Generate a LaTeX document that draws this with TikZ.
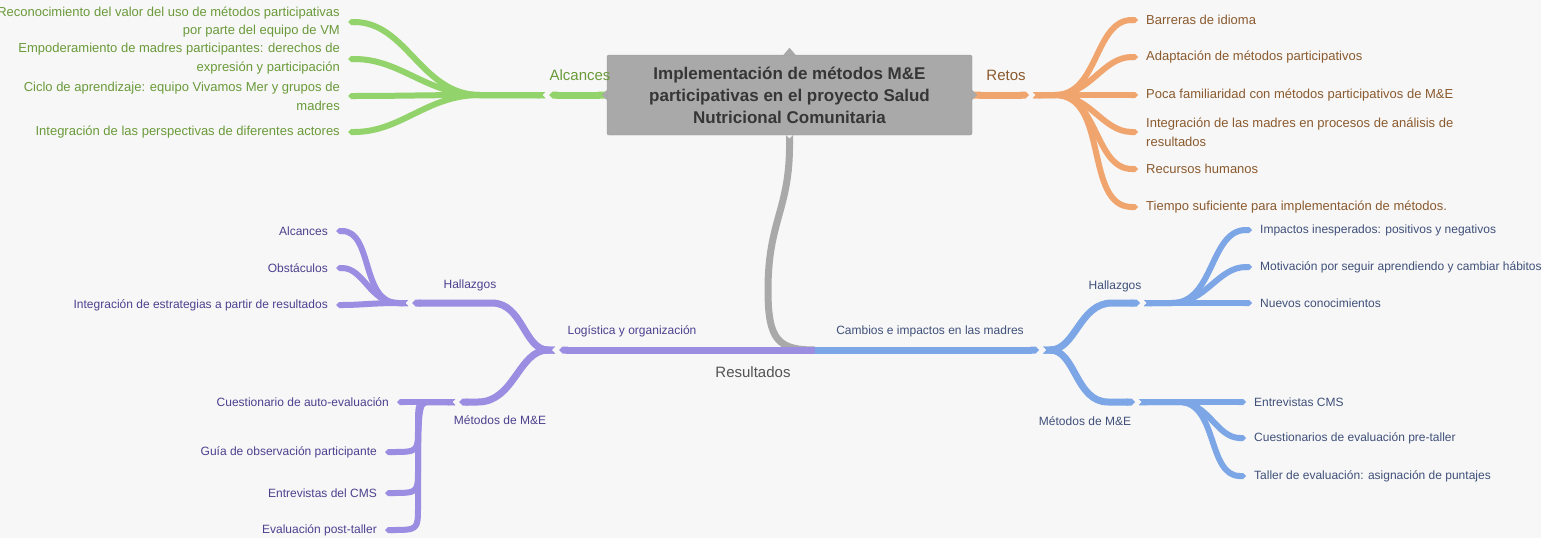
\documentclass[tikz,border=0pt]{standalone}
\usepackage{fontspec}
\setmainfont{Liberation Sans}
\usetikzlibrary{arrows.meta,positioning}
\definecolor{fondo}{HTML}{F7F7F7}
\definecolor{gris}{HTML}{A9A9A9}
\definecolor{grisT}{HTML}{363636}
\definecolor{verde}{HTML}{93D36B}
\definecolor{verdeT}{HTML}{6A9A3A}
\definecolor{naranja}{HTML}{F1A56E}
\definecolor{naranjaT}{HTML}{8B5A2E}
\definecolor{morado}{HTML}{9A8DE2}
\definecolor{moradoT}{HTML}{4C418F}
\definecolor{azul}{HTML}{7DA6E6}
\definecolor{azulT}{HTML}{3F5079}
\begin{document}
\begin{tikzpicture}[x=1pt,y=-1pt,line join=round,
	font=\fontsize{12}{18.5}\selectfont,
	rama/.style={line width=7pt,{Triangle Cap[reversed]}-{Triangle Cap}},
	hoja/.style={line width=6pt,{Triangle Cap[reversed]}-{Triangle Cap}},
	barra/.style={line width=7pt,-{Triangle Cap}},
	izq/.style={anchor=east,inner xsep=8pt,align=right},
	der/.style={anchor=west,inner xsep=8pt,align=left},
	alto/.style={font=\fontsize{13}{18.8}\selectfont},
	tema/.style={font=\fontsize{15}{17}\selectfont}]
	% fondo
	\useasboundingbox (0,0) rectangle (1541,538);
	\fill[fondo] (0,0) rectangle (1541,538);
	\node[fill=gris,draw=gris!90!black,rounded corners=2pt,minimum width=365pt,minimum height=80pt,
		inner sep=0pt,align=center,text=grisT,font=\fontsize{17}{22}\selectfont\bfseries] (main) at (789.5,95)
		{Implementación de métodos M\&E\\participativas en el proyecto Salud\\Nutricional Comunitaria};
	% puntos de union
	\coordinate (gA) at (549,95);   \coordinate (g0) at (545,95);
	\coordinate (oA) at (1029,95);  \coordinate (o0) at (1033,95);
	\coordinate (res) at (815,350);
	\coordinate (mA) at (559,350);  \coordinate (m0) at (555,350);
	\coordinate (bA) at (1039,350); \coordinate (b0) at (1043,350);
	\coordinate (mhA) at (412,303); \coordinate (mh0) at (408,303);
	\coordinate (mmA) at (459,402); \coordinate (mm0) at (455,402);
	\coordinate (bhA) at (1140,303); \coordinate (bh0) at (1144,303);
	\coordinate (bmA) at (1135,402); \coordinate (bm0) at (1139,402);
	% tronco gris
	\draw[gris,line width=7pt,{Triangle Cap[reversed]}-] (main.south) .. controls (790,210) and (768,220) .. (768,290)
		.. controls (768,340) and (778,350) .. (res);
	\draw[barra,morado] (res) -- (mA);
	\draw[barra,azul] (res) -- (bA);
	% Alcances
	\draw[rama,verde] (main.west) -- (gA);
	\foreach \n/\y/\t in {g1/22/{Reconocimiento del valor del uso de métodos participativas\\por parte del equipo de VM},
		g2/59/{Empoderamiento de madres participantes: derechos de\\expresión y participación},
		g3/96/{Ciclo de aprendizaje: equipo Vivamos Mer y grupos de\\madres},
		g4/132/{Integración de las perspectivas de diferentes actores}}{
		\node[izq,alto,text=verdeT] (\n) at (348,\y) {\t};
		\draw[hoja,verde] (g0) -- ++(-65,0) to[out=180,in=0] (\n.east);
	}
	% Retos
	\draw[rama,naranja] (main.east) -- (oA);
	\foreach \n/\y/\t in {o1/20/{Barreras de idioma}, o2/57/{Adaptación de métodos participativos},
		o3/95/{Poca familiaridad con métodos participativos de M\&E},
		o4/132/{Integración de las madres en procesos de análisis de\\resultados},
		o5/169/{Recursos humanos}, o6/207/{Tiempo suficiente para implementación de métodos.}}{
		\node[der,alto,text=naranjaT] (\n) at (1138,\y) {\t};
		\draw[hoja,naranja] (o0) -- ++(22,0) to[out=0,in=180] (\n.west);
	}
	% Resultados: lado morado
	\draw[rama,morado] (m0) to[out=180,in=0] (492,303) -- (mhA);
	\draw[rama,morado] (m0) to[out=180,in=0] (478,402) -- (mmA);
	\foreach \n/\y/\t in {mh1/231/{Alcances}, mh2/268/{Obstáculos}, mh3/305/{Integración de estrategias a partir de resultados}}{
		\node[izq,text=moradoT] (\n) at (336,\y) {\t};
		\draw[hoja,morado] (mh0) -- ++(-10,0) to[out=180,in=0] (\n.east);
	}
	\node[izq,text=moradoT] (mm1) at (397,402) {Cuestionario de auto-evaluación};
	\draw[hoja,morado] (mm0) -- (mm1.east);
	\foreach \n/\y/\t in {mm2/452/{Guía de observación participante}, mm3/493/{Entrevistas del CMS}, mm4/530/{Evaluación post-taller}}{
		\node[izq,text=moradoT] (\n) at (385,\y) {\t};
		\draw[hoja,morado] (mm0) -- (430,402) .. controls (418,402) .. (418,{\y-24}) .. controls (418,\y) .. (\n.east);
	}
	% Resultados: lado azul
	\draw[rama,azul] (b0) to[out=0,in=180] (1112,303) -- (bhA);
	\draw[rama,azul] (b0) to[out=0,in=180] (1108,402) -- (bmA);
	\foreach \n/\y/\t in {bh1/230/{Impactos inesperados: positivos y negativos},
		bh2/267/{Motivación por seguir aprendiendo y cambiar hábitos}, bh3/303/{Nuevos conocimientos}}{
		\node[der,text=azulT] (\n) at (1252,\y) {\t};
		\draw[hoja,azul] (bh0) -- ++(28,0) to[out=0,in=180] (\n.west);
	}
	\foreach \n/\y/\t in {bm1/402/{Entrevistas CMS}, bm2/438/{Cuestionarios de evaluación pre-taller},
		bm3/476/{Taller de evaluación: asignación de puntajes}}{
		\node[der,text=azulT] (\n) at (1246,\y) {\t};
		\draw[hoja,azul] (bm0) -- ++(40,0) to[out=0,in=180] (\n.west);
	}
	% etiquetas
	\node[tema,text=verdeT] (alc) at (580,75) {Alcances};
	\node[tema,text=naranjaT] (ret) at (1006,75) {Retos};
	\node[tema,text=grisT!85] (resl) at (753,372) {Resultados};
	\node[text=moradoT] (log) at (632,331) {Logística y organización};
	\node[text=azulT] (cam) at (930,331) {Cambios e impactos en las madres};
	\node[text=moradoT] (hal1) at (470,285) {Hallazgos};
	\node[text=moradoT] (met1) at (500,420) {Métodos de M\&E};
	\node[text=azulT] (hal2) at (1115,286) {Hallazgos};
	\node[text=azulT] (met2) at (1085,421) {Métodos de M\&E};
	% puntas del cuadro central
	\fill[gris] ([xshift=-6pt]main.north) -- ([yshift=7pt]main.north) -- ([xshift=6pt]main.north) -- cycle;
	\fill[gris] ([yshift=5pt]main.west) -- ([xshift=-5pt]main.west) -- ([yshift=-5pt]main.west) -- cycle;
	\fill[gris] ([yshift=5pt]main.east) -- ([xshift=5pt]main.east) -- ([yshift=-5pt]main.east) -- cycle;
\end{tikzpicture}
\end{document}
